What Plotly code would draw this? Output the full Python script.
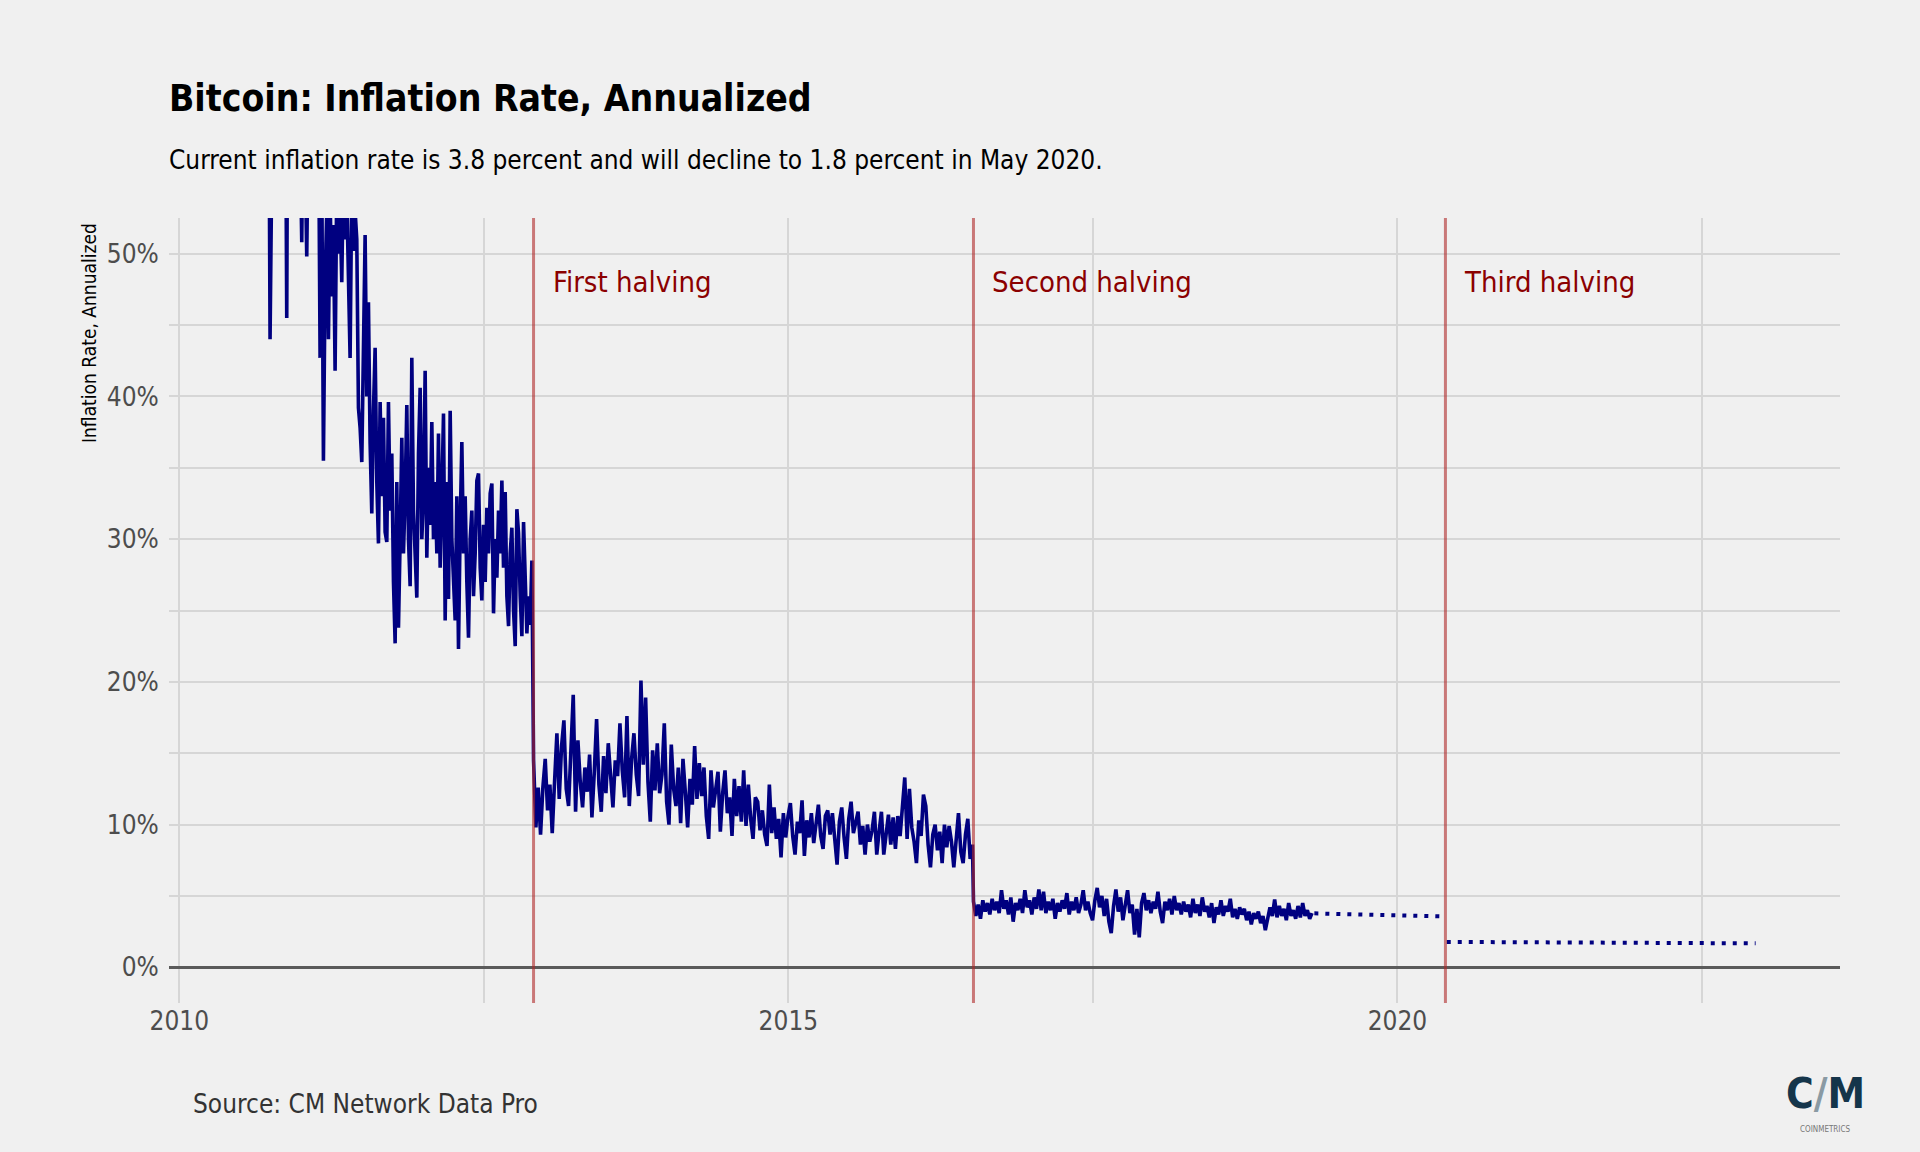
import pandas as pd
import plotly.graph_objects as go

# ---------------- data ----------------
halving_dates = ["2012-11-28", "2016-07-09", "2020-05-24"]
halving_labels = ["First halving", "Second halving", "Third halving"]

# inflation rate (%), sampled every 5 days before the first halving
vals_a = [
    78, 85, 70, 92, 66, 74, 88, 71, 63, 80,
    68, 75, 61, 83, 70, 44, 72, 64, 79, 60,
    66, 73, 58, 81, 69, 45.5, 77, 62, 70, 57,
    64, 71, 60, 58, 50.8, 62, 57, 49.8, 60, 66,
    63, 58, 69, 55, 61, 42.7, 56, 35.5, 48, 53,
    44, 54, 47, 52, 41.8, 55, 50, 53, 48, 56,
    51, 54, 49, 42.7, 55, 50.2, 53, 51, 39.2, 37.8,
    35.4, 45, 51.3, 40, 46.6, 36.7, 31.8, 39, 43.4, 34,
    29.7, 39.6, 33, 38.5, 30.5, 29.8, 39.6, 32, 36, 27,
    22.7, 34, 23.8, 30, 37.1, 29, 33, 39.4, 30, 26.7,
    42.7, 32, 28, 25.9, 36, 40.6, 30, 33, 41.8, 28.7,
    35, 31, 38.2, 30, 34, 29, 37.4, 28, 33, 38.8,
    24.3, 34, 25.8, 39, 30, 27, 24.3, 33, 22.3, 31,
    36.8, 29, 33, 27, 23.1, 30, 32, 26, 29, 34.1,
    34.6, 28, 25.7, 31, 27, 32.2, 29, 33.2, 33.9, 24.8,
    30, 27.3, 32, 29, 34.1, 28, 33.3, 26, 23.9, 29,
    30.8, 25, 22.5, 32.1, 30.4, 26, 23.2, 31.2, 27, 23.4,
    26, 24, 28.5,
]
# weekly samples between the first and second halving
vals_b = [
    14.5, 9.8, 12.6, 9.3, 12.6, 14.6, 11, 12.8, 9.4, 13,
    16.4, 11.8, 15.5, 17.3, 12.5, 11.3, 14.8, 19.1, 10.9, 15.9,
    13, 11.2, 14, 12.3, 14.9, 10.5, 13.6, 17.4, 12.8, 10.9,
    14.8, 12.2, 15.7, 13, 11.2, 14.5, 13.4, 17.1, 13.8, 11.9,
    17.6, 11.3, 14.6, 16.4, 13.5, 12, 20.1, 14.2, 18.9, 13,
    10.2, 15.2, 12.4, 15.7, 12.2, 13.5, 17.1, 11.6, 10, 15.6,
    12.5, 11.3, 14, 10.1, 14.6, 12.3, 9.8, 13.2, 11.4, 15.5,
    11.8, 14.3, 12, 14, 10.6, 9, 13.8, 11.2, 12.4, 13.7,
    9.5, 12.2, 13.8, 10.8, 11.9, 9.2, 13.2, 10.6, 12.7, 10.2,
    13.8, 9.9, 12.8, 10.4, 9, 11.9, 11.6, 9.6, 11, 9.3,
    8.5, 12.8, 9.4, 11.2, 9, 10.4, 7.7, 10.8, 9.1, 10.6,
    11.5, 9.2, 7.9, 10.2, 9.4, 11.7, 7.8, 10.3, 9.1, 10.8,
    8.7, 10, 11.4, 9.2, 8.3, 10.6, 11, 9.3, 10.8, 9,
    7.2, 10.2, 11.2, 9.1, 7.6, 10.4, 11.6, 9.4, 10.1, 10.9,
    8.6, 9.9, 7.9, 10, 8.8, 9.6, 10.9, 7.9, 9.5, 10.9,
    7.9, 9.6, 10.7, 8.6, 10.5, 8.3, 10.6, 9.2, 11, 13.3,
    9, 12.5, 9.8, 8.8, 7.3, 10.3, 9.2, 12.1, 11.3, 8.6,
    7, 9.3, 10, 8.2, 9.5, 7.3, 10, 8.4, 9.9, 8.8,
    7, 9.2, 10.8, 8.1, 7.3, 9.3, 10.4, 7.6, 8.6,
]
# weekly samples after the second halving
vals_c = [
    4.6, 3.6, 4.4, 3.4, 4.7, 3.9, 4.5, 3.7, 4.8, 4.0,
    4.6, 3.8, 5.4, 4.1, 4.7, 3.7, 4.9, 3.2, 4.5, 4.0,
    4.8, 3.8, 5.4, 4.2, 4.7, 3.7, 4.9, 4.1, 5.45, 4.0,
    5.3, 3.8, 4.6, 4.0, 4.8, 3.4, 4.5, 3.9, 4.7, 4.1,
    5.2, 3.7, 4.6, 4.0, 4.9, 3.8, 4.4, 5.4, 4.0, 4.6,
    3.8, 3.3, 4.7, 5.56, 4.2, 5.0, 3.6, 4.8, 3.2, 2.4,
    4.3, 5.45, 3.9, 4.9, 3.3, 4.6, 5.4, 3.8, 4.4, 2.3,
    4.1, 2.1, 4.5, 5.2, 4.0, 4.7, 3.8, 4.6, 4.1, 5.3,
    3.9, 3.1, 4.6, 4.0, 4.8, 3.7, 5.0, 4.0, 4.5, 3.7,
    4.6, 3.9, 4.4, 3.5, 4.8, 3.8, 4.4, 3.6, 4.9, 3.9,
    4.3, 3.5, 4.5, 3.1, 4.2, 3.7, 4.7, 3.6, 4.3, 3.9,
    4.8, 3.5, 4.1, 3.4, 4.2, 3.7, 4.1, 3.3, 3.9, 3.0,
    3.8, 3.4, 3.9, 3.1, 3.6, 2.6, 3.4, 4.2, 3.6, 4.76,
    3.5, 4.3, 3.6, 4.1, 3.3, 4.5, 3.6, 4.0, 3.4, 4.3,
    3.5, 4.5, 3.6, 4.0, 3.4, 3.8,
]
proj1_dates = ["2019-04-27", "2020-05-10"]
proj1_vals = [3.78, 3.57]
proj2_dates = ["2020-05-28", "2022-12-10"]
proj2_vals = [1.78, 1.68]

y_tickvals = [0, 5, 10, 15, 20, 25, 30, 35, 40, 45, 50]
y_ticktext = ["0%", "", "10%", "", "20%", "", "30%", "", "40%", "", "50%"]
x_tickvals = ["2010-01-01", "2012-07-02", "2015-01-01", "2017-07-02", "2020-01-01", "2022-07-02"]
x_ticktext = ["2010", "", "2015", "", "2020", ""]

title_text = "Bitcoin: Inflation Rate, Annualized"
subtitle_text = "Current inflation rate is 3.8 percent and will decline to 1.8 percent in May 2020."
ytitle_text = "Inflation Rate, Annualized"
source_text = "Source: CM Network Data Pro"

# ---------------- build series ----------------
h1 = pd.Timestamp(halving_dates[0])
dates_a = pd.date_range(h1 - pd.Timedelta(days=5 * len(vals_a)), periods=len(vals_a), freq="5D")
dates_b = pd.date_range(h1, periods=len(vals_b), freq="7D")
dates_c = pd.date_range(pd.Timestamp(halving_dates[1]), periods=len(vals_c), freq="7D")
dates_all = list(dates_a) + list(dates_b) + list(dates_c)
vals_all = vals_a + vals_b + vals_c

# ---------------- layout geometry ----------------
W, H = 1920, 1152
L, R, T, B = 169, 1840, 218, 1003
FONT = "DejaVu Sans Condensed, Liberation Sans Narrow, sans-serif"
BG = "#F0F0F0"
GRID = "#D6D6D6"
NAVY = "#000080"


def px_x(px):
    return (px - L) / (R - L)


def px_y(py):
    return (B - py) / (B - T)


fig = go.Figure()
fig.add_trace(go.Scatter(x=dates_all, y=vals_all, mode="lines",
                         line=dict(color=NAVY, width=3.6), hoverinfo="skip"))
fig.add_trace(go.Scatter(x=proj1_dates, y=proj1_vals, mode="lines",
                         line=dict(color=NAVY, width=4, dash="4px,7px"), hoverinfo="skip"))
fig.add_trace(go.Scatter(x=proj2_dates, y=proj2_vals, mode="lines",
                         line=dict(color=NAVY, width=4, dash="4px,7px"), hoverinfo="skip"))

shapes = []
annotations = []
for d, lab in zip(halving_dates, halving_labels):
    shapes.append(dict(type="line", xref="x", yref="paper", x0=d, x1=d, y0=0, y1=1,
                       line=dict(color="rgba(175,40,40,0.6)", width=3), layer="above"))
    annotations.append(dict(x=d, xref="x", xshift=17, y=px_y(282), yref="paper",
                            text=lab, showarrow=False, xanchor="left", yanchor="middle",
                            font=dict(family=FONT, size=29, color="#8B0000")))

annotations += [
    dict(x=px_x(167), y=px_y(98), xref="paper", yref="paper", text="<b>" + title_text + "</b>",
         showarrow=False, xanchor="left", yanchor="middle",
         font=dict(family=FONT, size=37, color="#000000")),
    dict(x=px_x(167), y=px_y(160), xref="paper", yref="paper", text=subtitle_text,
         showarrow=False, xanchor="left", yanchor="middle",
         font=dict(family=FONT, size=26, color="#000000")),
    dict(x=px_x(89), y=px_y(221), xref="paper", yref="paper", text=ytitle_text,
         showarrow=False, xanchor="center", yanchor="top", textangle=-90,
         font=dict(family=FONT, size=19, color="#000000")),
    dict(x=px_x(191), y=px_y(1104), xref="paper", yref="paper", text=source_text,
         showarrow=False, xanchor="left", yanchor="middle",
         font=dict(family=FONT, size=26, color="#333333")),
    dict(x=px_x(1825), y=px_y(1093), xref="paper", yref="paper",
         text="<b>C<span style='color:#8a9aa3'>/</span>M</b>",
         showarrow=False, xanchor="center", yanchor="middle",
         font=dict(family=FONT, size=42, color="#15354a")),
    dict(x=px_x(1825), y=px_y(1129), xref="paper", yref="paper", text="COINMETRICS",
         showarrow=False, xanchor="center", yanchor="middle",
         font=dict(family=FONT, size=8, color="#777777")),
]

fig.update_layout(
    width=W, height=H, autosize=False,
    margin=dict(l=L, r=W - R, t=T, b=H - B, pad=0),
    paper_bgcolor=BG, plot_bgcolor=BG,
    showlegend=False,
    shapes=shapes, annotations=annotations,
    font=dict(family=FONT),
)
fig.update_xaxes(
    type="date", range=["2009-12-01", "2023-08-20"],
    tickvals=x_tickvals, ticktext=x_ticktext,
    showgrid=True, gridcolor=GRID, gridwidth=1.5, zeroline=False, showline=False,
    ticks="",
    tickfont=dict(family=FONT, size=26, color="#4D4D4D"),
)
fig.update_yaxes(
    range=[-2.5, 52.5],
    tickvals=y_tickvals, ticktext=y_ticktext,
    showgrid=True, gridcolor=GRID, gridwidth=1.5,
    zeroline=True, zerolinecolor="#5A5A5A", zerolinewidth=3, showline=False,
    ticks="outside", ticklen=4, tickcolor="rgba(0,0,0,0)",
    tickfont=dict(family=FONT, size=26, color="#4D4D4D"),
)

fig.write_html("out.html", config={"displayModeBar": False},
               post_script="document.body.style.margin='0';")
